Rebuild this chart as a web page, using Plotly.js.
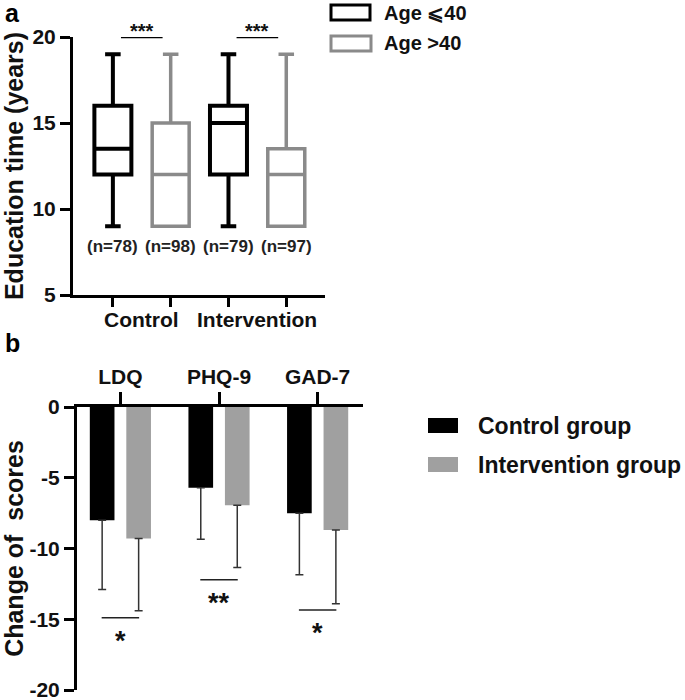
<!DOCTYPE html>
<html>
<head>
<meta charset="utf-8">
<script src="https://cdn.plot.ly/plotly-3.0.1.min.js"></script>
<style>html,body{margin:0;padding:0;background:#fff;}#chart{width:685px;height:700px;}</style>
</head>
<body>
<div id="chart"></div>
<script>
// ---------- Panel a: education time box plots ----------
const groups = ['Control', 'Intervention'];
const ageLabels = ['Age \u2A7D40', 'Age >40'];
const youngLower = [9, 9];
const youngQ1 = [12, 12];
const youngMedian = [13.5, 15];
const youngQ3 = [16, 16];
const youngUpper = [19, 19];
const youngN = [78, 79];
const oldLower = [9, 9];
const oldQ1 = [9, 9];
const oldMedian = [12, 12];
const oldQ3 = [15, 13.5];
const oldUpper = [19, 19];
const oldN = [98, 97];
const sigTopText = ['***', '***'];
const sigTopY = [20, 20];
const yTicksTop = [5, 10, 15, 20];

// ---------- Panel b: change of scores ----------
const scales = ['LDQ', 'PHQ-9', 'GAD-7'];
const controlMean = [-8.0, -5.7, -7.5];
const controlSD = [4.9, 3.65, 4.35];
const interventionMean = [-9.3, -6.95, -8.7];
const interventionSD = [5.1, 4.4, 5.2];
const sigBottomText = ['*', '**', '*'];
const sigBottomY = [-14.9, -12.2, -14.35];
const yTicksBottom = [0, -5, -10, -15, -20];
const seriesNames = ['Control group', 'Intervention group'];

// ---------- styling ----------
const FONT = 'Liberation Sans, Arial, Helvetica, sans-serif';
const W = 685, H = 700;
const px = v => v / W;
const py = v => 1 - v / H;
const BLACK = '#000000';
const GREY_BOX = '#8a8a8a';
const GREY_BAR = '#a0a0a0';

const youngPos = groups.map((g, i) => 2 * i);
const oldPos = groups.map((g, i) => 2 * i + 1);
const groupCenters = groups.map((g, i) => 2 * i + 0.5);
const scalePos = scales.map((s, i) => i);

const traces = [
  {
    type: 'box', name: ageLabels[0], x: youngPos,
    lowerfence: youngLower, q1: youngQ1, median: youngMedian, q3: youngQ3, upperfence: youngUpper,
    boxpoints: false, width: 0.64, whiskerwidth: 0.42,
    line: {color: BLACK, width: 4}, fillcolor: '#ffffff',
    xaxis: 'x', yaxis: 'y', showlegend: false, hoverinfo: 'skip'
  },
  {
    type: 'box', name: ageLabels[1], x: oldPos,
    lowerfence: oldLower, q1: oldQ1, median: oldMedian, q3: oldQ3, upperfence: oldUpper,
    boxpoints: false, width: 0.64, whiskerwidth: 0.42,
    line: {color: GREY_BOX, width: 3.5}, fillcolor: '#ffffff',
    xaxis: 'x', yaxis: 'y', showlegend: false, hoverinfo: 'skip'
  },
  {
    type: 'bar', name: seriesNames[0], x: scalePos, y: controlMean,
    width: 0.25, offset: -0.31, marker: {color: BLACK, line: {width: 0}},
    error_y: {type: 'data', symmetric: false, array: controlSD.map(() => 0), arrayminus: controlSD,
      color: '#333333', thickness: 1.5, width: 4},
    xaxis: 'x2', yaxis: 'y2', showlegend: false, hoverinfo: 'skip'
  },
  {
    type: 'bar', name: seriesNames[1], x: scalePos, y: interventionMean,
    width: 0.25, offset: 0.06, marker: {color: GREY_BAR, line: {width: 0}},
    error_y: {type: 'data', symmetric: false, array: interventionSD.map(() => 0), arrayminus: interventionSD,
      color: '#333333', thickness: 1.5, width: 4},
    xaxis: 'x2', yaxis: 'y2', showlegend: false, hoverinfo: 'skip'
  }
];

const shapes = [];
const annotations = [];
const tickFont = {family: FONT, size: 21, weight: 'bold', color: '#111'};

groups.forEach((g, i) => {
  // group label under the axis
  annotations.push({xref: 'x', yref: 'paper', x: groupCenters[i], y: py(295), yanchor: 'top', yshift: -11,
    text: g, showarrow: false, font: tickFont});
  // n labels
  annotations.push({xref: 'x', yref: 'y', x: youngPos[i], y: 7.8, text: '(n=' + youngN[i] + ')',
    showarrow: false, font: {family: FONT, size: 17, weight: 'bold', color: '#222'}});
  annotations.push({xref: 'x', yref: 'y', x: oldPos[i], y: 7.8, text: '(n=' + oldN[i] + ')',
    showarrow: false, font: {family: FONT, size: 17, weight: 'bold', color: '#222'}});
  // significance top
  shapes.push({type: 'line', xref: 'x', yref: 'y', x0: youngPos[i] + 0.14, x1: oldPos[i] - 0.14,
    y0: sigTopY[i], y1: sigTopY[i], line: {color: BLACK, width: 2.5}});
  annotations.push({xref: 'x', yref: 'y', x: groupCenters[i], y: sigTopY[i], yanchor: 'bottom', yshift: -7,
    text: sigTopText[i], showarrow: false, font: {family: FONT, size: 20, weight: 'bold', color: '#111'}});
});

// significance bottom
scales.forEach((s, i) => {
  shapes.push({type: 'line', xref: 'x2', yref: 'y2', x0: scalePos[i] - 0.19, x1: scalePos[i] + 0.19,
    y0: sigBottomY[i], y1: sigBottomY[i], line: {color: '#222', width: 1.5}});
  annotations.push({xref: 'x2', yref: 'y2', x: scalePos[i], y: sigBottomY[i], yanchor: 'top', yshift: -6,
    text: sigBottomText[i], showarrow: false, font: {family: FONT, size: 27, weight: 'bold', color: '#111'}});
});

// custom legend panel a
shapes.push({type: 'rect', xref: 'paper', yref: 'paper', x0: px(331), x1: px(370), y0: py(20), y1: py(5),
  line: {color: BLACK, width: 3}, fillcolor: '#fff'});
shapes.push({type: 'rect', xref: 'paper', yref: 'paper', x0: px(331), x1: px(371), y0: py(51), y1: py(36),
  line: {color: GREY_BOX, width: 3}, fillcolor: '#fff'});
annotations.push({xref: 'paper', yref: 'paper', x: px(382), y: py(13), xanchor: 'left', yanchor: 'middle',
  text: ageLabels[0], showarrow: false, font: {family: FONT, size: 20, weight: 'bold', color: '#111'}});
annotations.push({xref: 'paper', yref: 'paper', x: px(382), y: py(43), xanchor: 'left', yanchor: 'middle',
  text: ageLabels[1], showarrow: false, font: {family: FONT, size: 20, weight: 'bold', color: '#111'}});

// custom legend panel b
shapes.push({type: 'rect', xref: 'paper', yref: 'paper', x0: px(428), x1: px(458), y0: py(433), y1: py(418),
  line: {width: 0}, fillcolor: BLACK});
shapes.push({type: 'rect', xref: 'paper', yref: 'paper', x0: px(428), x1: px(458), y0: py(472), y1: py(457),
  line: {width: 0}, fillcolor: GREY_BAR});
annotations.push({xref: 'paper', yref: 'paper', x: px(476), y: py(426), xanchor: 'left', yanchor: 'middle',
  text: seriesNames[0], showarrow: false, font: {family: FONT, size: 23, weight: 'bold', color: '#111'}});
annotations.push({xref: 'paper', yref: 'paper', x: px(476), y: py(465), xanchor: 'left', yanchor: 'middle',
  text: seriesNames[1], showarrow: false, font: {family: FONT, size: 23, weight: 'bold', color: '#111'}});

// panel letters
annotations.push({xref: 'paper', yref: 'paper', x: px(3), y: 1, xanchor: 'left', yanchor: 'top', yshift: 3,
  text: 'a', showarrow: false, font: {family: FONT, size: 25, weight: 'bold', color: '#000'}});
annotations.push({xref: 'paper', yref: 'paper', x: px(3), y: py(343), xanchor: 'left', yanchor: 'middle',
  text: 'b', showarrow: false, font: {family: FONT, size: 25, weight: 'bold', color: '#000'}});

const layout = {
  width: W, height: H,
  margin: {l: 0, r: 0, t: 0, b: 0},
  paper_bgcolor: '#fff', plot_bgcolor: 'rgba(0,0,0,0)',
  boxmode: 'overlay', barmode: 'overlay',
  showlegend: false,
  font: {family: FONT},
  xaxis: {
    domain: [px(73), px(325)], range: [-0.69, 3.67], anchor: 'y',
    showgrid: false, zeroline: false, showline: true, linecolor: BLACK, linewidth: 3,
    tickmode: 'array', tickvals: youngPos.concat(oldPos), ticktext: youngPos.concat(oldPos).map(() => ''),
    ticks: 'outside', ticklen: 9, tickwidth: 3, tickcolor: BLACK
  },
  yaxis: {
    domain: [py(295), py(37)], range: [5, 20], anchor: 'x',
    showgrid: false, zeroline: false, showline: true, linecolor: BLACK, linewidth: 3,
    tickmode: 'array', tickvals: yTicksTop, ticktext: yTicksTop.map(String),
    ticks: 'outside', ticklen: 10, tickwidth: 3, tickcolor: BLACK, tickfont: tickFont,
    ticklabeloverflow: 'allow',
    title: {text: 'Education time (years)', font: {family: FONT, size: 25, weight: 'bold', color: '#111'}, standoff: 11}
  },
  xaxis2: {
    domain: [px(77), px(363)], range: [-0.44, 2.46], anchor: 'y2', side: 'top',
    showgrid: false, zeroline: false, showline: true, linecolor: BLACK, linewidth: 3,
    tickmode: 'array', tickvals: scalePos, ticktext: scales,
    ticks: 'outside', ticklen: 12, tickwidth: 3, tickcolor: BLACK, tickfont: tickFont
  },
  yaxis2: {
    domain: [py(690), py(407)], range: [-20, 0], anchor: 'x2',
    showgrid: false, zeroline: false, showline: true, linecolor: BLACK, linewidth: 3,
    tickmode: 'array', tickvals: yTicksBottom, ticktext: yTicksBottom.map(String),
    ticks: 'outside', ticklen: 10, tickwidth: 3, tickcolor: BLACK, tickfont: tickFont,
    ticklabeloverflow: 'allow',
    title: {text: 'Change of \u00a0scores', font: {family: FONT, size: 25, weight: 'bold', color: '#111'}, standoff: 11}
  },
  shapes: shapes,
  annotations: annotations
};

Plotly.newPlot('chart', traces, layout, {displayModeBar: false, staticPlot: true});
</script>
</body>
</html>
